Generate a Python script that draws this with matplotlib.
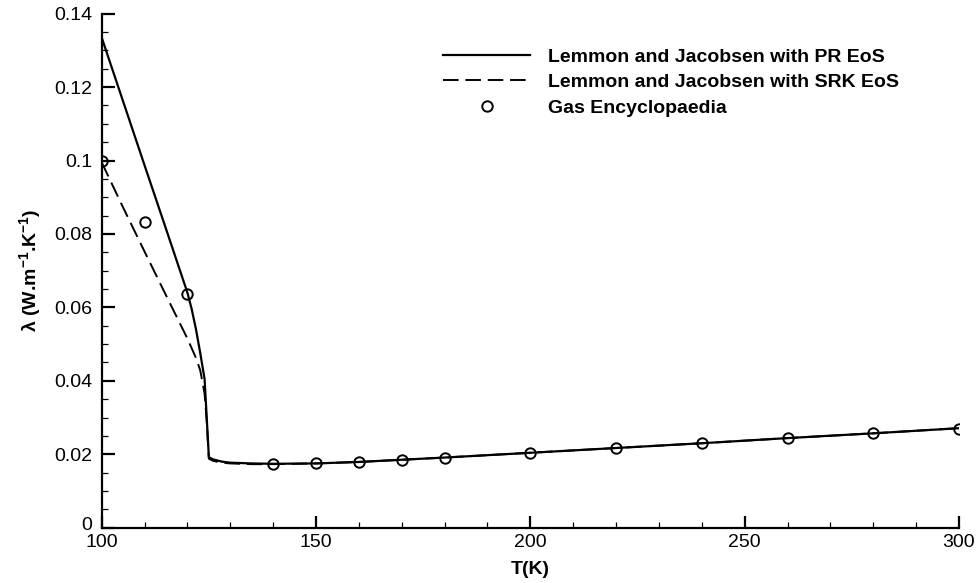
import matplotlib
matplotlib.use("Agg")
import matplotlib.pyplot as plt
from matplotlib.ticker import MultipleLocator
from matplotlib.transforms import ScaledTranslation

plt.rcParams["font.family"] = ["Liberation Sans", "DejaVu Sans"]
plt.rcParams["mathtext.fontset"] = "custom"
plt.rcParams["mathtext.rm"] = "Liberation Sans"
plt.rcParams["mathtext.bf"] = "Liberation Sans:bold"

# thermal conductivity, PR EoS
T_pr = [100, 105, 110, 115, 120, 121, 122, 123, 124, 124.5, 125, 126, 128, 130, 135,
        140, 150, 160, 170, 180, 200, 220, 240, 260, 280, 300]
k_pr = [0.1335, 0.1161, 0.0987, 0.0814, 0.0640, 0.0595, 0.0540, 0.0475, 0.0405, 0.0300,
        0.0192, 0.0186, 0.0180, 0.0177, 0.0175, 0.0174, 0.0175, 0.0179, 0.0185, 0.0191,
        0.0204, 0.0217, 0.0230, 0.0244, 0.0257, 0.0271]

# thermal conductivity, SRK EoS
T_srk = [100, 105, 110, 115, 120, 122, 123, 124, 124.5, 125, 126, 128, 130, 135,
         140, 150, 160, 170, 180, 200, 220, 240, 260, 280, 300]
k_srk = [0.0995, 0.0872, 0.0752, 0.0633, 0.0515, 0.0462, 0.0428, 0.0365, 0.0290, 0.0188,
         0.0182, 0.0177, 0.0175, 0.0173, 0.0173, 0.0175, 0.0179, 0.0185, 0.0191,
         0.0204, 0.0217, 0.0230, 0.0244, 0.0257, 0.0271]

# Gas Encyclopaedia reference values
T_ge = [100, 110, 120, 140, 150, 160, 170, 180, 200, 220, 240, 260, 280, 300]
k_ge = [0.1000, 0.0833, 0.0637, 0.01736, 0.01755, 0.0179, 0.01845, 0.0191,
        0.0204, 0.0216, 0.0231, 0.0244, 0.0258, 0.0270]

yticks = [0, 0.02, 0.04, 0.06, 0.08, 0.1, 0.12, 0.14]
ytick_labels = ["0", "0.02", "0.04", "0.06", "0.08", "0.1", "0.12", "0.14"]

fig = plt.figure(figsize=(9.76, 5.83), dpi=100)
ax = fig.add_axes([0.1042, 0.0949, 0.8784, 0.8816])

ax.plot(T_pr, k_pr, color="black", lw=1.6, label="Lemmon and Jacobsen with PR EoS")
ax.plot(T_srk, k_srk, color="black", lw=1.4, dashes=(8, 3.5),
        label="Lemmon and Jacobsen with SRK EoS")
ax.plot(T_ge, k_ge, linestyle="none", marker="o", ms=7.5, mfc="none", mec="black",
        mew=1.4, label="Gas Encyclopaedia")

ax.set_xlim(100, 300)
ax.set_ylim(0, 0.14)
ax.xaxis.set_major_locator(MultipleLocator(50))
ax.xaxis.set_minor_locator(MultipleLocator(10))
ax.yaxis.set_minor_locator(MultipleLocator(0.005))
ax.set_yticks(yticks)
ax.set_yticklabels(ytick_labels)

for s in ["top", "right"]:
    ax.spines[s].set_visible(False)
for s in ["left", "bottom"]:
    ax.spines[s].set_linewidth(1.6)

ax.tick_params(which="major", direction="in", length=9, width=1.6, labelsize=14)
ax.tick_params(which="minor", direction="in", length=4.5, width=0.9)
ax.tick_params(axis="y", which="major", pad=7)
ax.tick_params(axis="x", which="major", pad=4.5)

# lift the "0" a touch so it clears the "100" below it
zero = ax.get_yticklabels()[0]
zero.set_transform(zero.get_transform() + ScaledTranslation(0, 3 / 72, fig.dpi_scale_trans))

ax.set_xlabel("T(K)", fontsize=14, fontweight="bold")
ax.set_ylabel(r"λ (W.m$\mathbf{^{-1}}$.K$\mathbf{^{-1}}$)", fontsize=14, fontweight="bold")
ax.yaxis.set_label_coords(-0.069, 0.5)
ax.xaxis.set_label_coords(0.5, -0.064)

leg = ax.legend(loc="upper left", bbox_to_anchor=(0.398, 0.933), frameon=False,
                prop=dict(size=14, weight="bold"), handlelength=4.5,
                handletextpad=0.9, labelspacing=0.4, borderpad=0, borderaxespad=0,
                numpoints=1)

fig.savefig("out.png", dpi=100)
